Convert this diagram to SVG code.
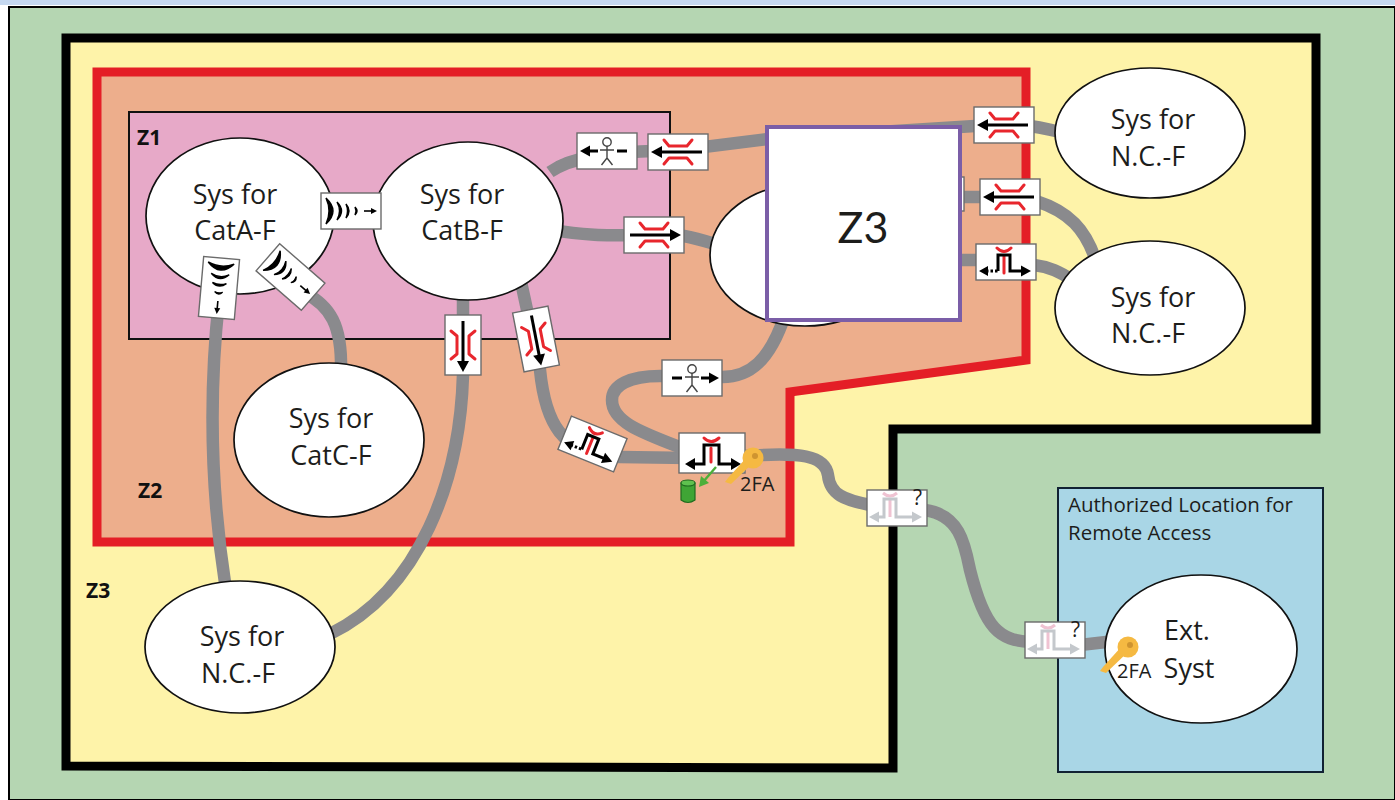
<svg xmlns="http://www.w3.org/2000/svg" width="1395" height="800" viewBox="0 0 1395 800">
<style>
text{font-family:"Open Sans","Noto Sans","Liberation Sans",sans-serif;fill:#1d1d1b}
.lab{font-size:27px;text-anchor:middle}
.zn{font-size:21px;font-weight:700;fill:#111}
.el{fill:#fff;stroke:#111;stroke-width:1.7}
.cn{fill:none;stroke:#8a8a8d;stroke-width:12.5}
.box{fill:#fff;stroke:#6b6b6b;stroke-width:1.4}
.red{fill:none;stroke:#e8262d;stroke-width:3;stroke-linejoin:round;stroke-linecap:round}
.blk{fill:none;stroke:#000;stroke-width:3}
.gr{fill:none;stroke:#c4c8cc;stroke-width:3}
.pk{fill:none;stroke:#efc3d2;stroke-width:3}
</style>
<defs>
<g id="fw"><rect class="box" x="-30" y="-18" width="60" height="36"/>
<path class="red" d="M-14,-12 L-9,-6 H9 L14,-12 M-14,12 L-9,6 H9 L14,12"/>
<path class="blk" d="M-24,0 H20"/><path d="M27,0 L16,-6 V6Z"/></g>
<g id="pulse"><rect class="box" x="-30" y="-18" width="60" height="36"/>
<path d="M-25,-13 Q-11,0 -25,13 Q-19,0 -25,-13Z M-14,-9 Q-5,0 -14,9 Q-9,0 -14,-9Z M-5,-7 Q1,0 -5,7 Q-2,0 -5,-7Z M4,-4 Q8,0 4,4 Q6,0 4,-4Z" stroke="#000" stroke-width="1.4"/>
<path d="M13,0 H21" stroke="#000" stroke-width="1.6"/><path d="M26,0 L20,-3 V3Z"/></g>
<g id="person"><rect class="box" x="-30" y="-18" width="60" height="36"/>
<path d="M-27,0 L-17,-5.5 V5.5Z"/><path d="M-18,0 H-9 M10,0 H20" stroke="#000" stroke-width="3"/>
<circle cx="0" cy="-9" r="4.2" fill="#fff" stroke="#444" stroke-width="1.4"/>
<path d="M0,-5 V7 M-7,-1 H7 M0,7 L-5.5,14 M0,7 L5.5,14" fill="none" stroke="#444" stroke-width="1.4"/></g>
<g id="tunD"><rect class="box" x="-30" y="-18" width="60" height="36"/>
<path class="red" d="M-9,-14 Q-2,-7 5,-14 M-2,-6 V11"/>
<path class="blk" d="M-8,9 V-7 H4 V9 H18"/><path class="blk" stroke-dasharray="2.5 2" d="M-20,9 H-8"/>
<path d="M25,9 L15,3.5 V14.5Z M-27,9 L-18,4 V14Z"/></g>
<g id="tunS"><rect class="box" x="-33" y="-20" width="66" height="40"/>
<path class="red" d="M-8,-15 Q-1,-8 7,-15 M-1,-5 V9"/>
<path class="blk" d="M-20,11 H-8 V-8 H7 V11 H22"/>
<path d="M29,11 L19,5 V17Z M-27,11 L-17,5 V17Z"/></g>
<g id="tunG"><rect class="box" x="-30" y="-18" width="60" height="36"/>
<path class="pk" d="M-14,-15 Q-7,-9 0,-15 M-7,-8 V9"/>
<path class="gr" d="M-20,9 H-13 V-9 H-1 V9 H16"/>
<path d="M25,9 L15,3.5 V14.5Z M-28,9 L-18,3.5 V14.5Z" fill="#c4c8cc"/>
<text x="16" y="-3" font-size="21">?</text></g>
<g id="key"><path d="M-3,-5 L-22,16 L-25,20 L-19,22 L3,1" fill="#f5b942"/>
<circle cx="3" cy="-4" r="10.5" fill="#f5b942"/><circle cx="5" cy="-6" r="3" fill="#cf9430"/></g>
</defs>

<rect width="1395" height="800" fill="#fff"/>
<rect width="1395" height="5" fill="#c5d8f0"/>
<rect x="9" y="7" width="1386" height="793" fill="#b5d6b2" stroke="#000" stroke-width="2"/>

<g id="zone-z3"><path d="M66,38 H1316 V429 H893 V768 L66,766Z" fill="#fef3a9" stroke="#000" stroke-width="9"/>
<text class="zn" x="86" y="598">Z3</text></g>
<g id="zone-z2"><path d="M97,72 H1026 V360 L790,392 V542 H97Z" fill="#edae8c" stroke="#e41e26" stroke-width="9"/>
<text class="zn" x="138" y="498">Z2</text></g>
<g id="zone-z1"><rect x="129" y="112" width="541" height="227" fill="#e7a9c8" stroke="#111" stroke-width="2"/>
<text class="zn" x="137" y="145">Z1</text></g>
<g id="zone-remote"><rect x="1058" y="488" width="265" height="284" fill="#a9d6e6" stroke="#123" stroke-width="2"/>
<text x="1068" y="512" font-size="20.5">Authorized Location for</text>
<text x="1068" y="540" font-size="20.5">Remote Access</text></g>

<g id="connectors">
<path class="cn" d="M219,300 C208,400 212,500 226,590"/>
<path class="cn" d="M305,293 C330,306 342,325 341,370"/>
<path class="cn" d="M550,172 C570,158 600,152 680,150 L768,139 L975,126"/>
<path class="cn" d="M555,230 C590,238 640,234 684,236 C695,238 705,241 715,244"/>
<path class="cn" d="M463,275 V375 C460,480 420,590 330,634"/>
<path class="cn" d="M518,268 L540,370 C545,420 560,456 620,457 L690,458"/>
<path class="cn" d="M785,315 C770,360 750,378 720,377 L660,376 C630,376 612,385 612,400 C612,425 650,435 700,455"/>
<path class="cn" d="M745,456 C800,452 825,455 828,475 C830,495 845,500 870,505 L925,510 C960,515 965,545 970,570 C985,630 1000,640 1030,642"/>
<path class="cn" d="M1080,645 L1115,641"/>
<path class="cn" d="M1030,126 C1045,128 1050,130 1062,132"/>
<path class="cn" d="M960,197 H985 M1036,201 C1070,212 1085,230 1095,258"/>
<path class="cn" d="M958,260 H980 M1034,265 C1050,267 1060,272 1072,280"/>
</g>

<g id="sys-cata"><ellipse class="el" cx="240" cy="216" rx="94" ry="78"/><text class="lab" x="235" y="204">Sys for</text><text class="lab" x="235" y="240">CatA-F</text></g>
<g id="sys-catb"><ellipse class="el" cx="468" cy="221" rx="95" ry="79"/><text class="lab" x="462" y="204">Sys for</text><text class="lab" x="462" y="240">CatB-F</text></g>
<g id="sys-catc"><ellipse class="el" cx="329" cy="440" rx="95" ry="77"/><text class="lab" x="331" y="428">Sys for</text><text class="lab" x="331" y="465">CatC-F</text></g>
<g id="sys-nc-bottom"><ellipse class="el" cx="240" cy="647" rx="95" ry="66"/><text class="lab" x="242" y="646">Sys for</text><text class="lab" x="238" y="683">N.C.-F</text></g>
<g id="sys-nc-top"><ellipse class="el" cx="1150" cy="133" rx="95" ry="65"/><text class="lab" x="1153" y="129">Sys for</text><text class="lab" x="1148" y="166">N.C.-F</text></g>
<g id="sys-nc-mid"><ellipse class="el" cx="1150" cy="308" rx="95" ry="67"/><text class="lab" x="1153" y="307">Sys for</text><text class="lab" x="1148" y="343">N.C.-F</text></g>
<g id="sys-ext"><ellipse class="el" cx="1201" cy="649" rx="96" ry="74"/><text class="lab" x="1187" y="640">Ext.</text><text class="lab" x="1189" y="678">Syst</text></g>
<g id="sys-hidden"><ellipse class="el" cx="805" cy="255" rx="95" ry="71"/></g>

<g id="ctl-pulse-h"><use href="#pulse" transform="translate(351,211)"/></g>
<g id="ctl-pulse-d"><use href="#pulse" transform="translate(219,288) rotate(95)"/></g>
<g id="ctl-pulse-diag"><use href="#pulse" transform="translate(290.5,277) rotate(41)"/></g>
<g id="ctl-person-l"><use href="#person" transform="translate(607,151)"/></g>
<g id="ctl-fw-l1"><use href="#fw" transform="translate(678,152) scale(-1,1)"/></g>
<g id="ctl-fw-r"><use href="#fw" transform="translate(654,235)"/></g>
<g id="ctl-fw-l2"><use href="#fw" transform="translate(1004,125) scale(-1,1)"/></g>
<g id="ctl-hidden-edge"><rect class="box" x="950" y="177" width="14" height="34"/></g>
<g id="ctl-fw-l3"><use href="#fw" transform="translate(1010,197) scale(-1,1)"/></g>
<g id="ctl-tun-r"><use href="#tunD" transform="translate(1006,262)"/></g>
<g id="ctl-fw-d1"><use href="#fw" transform="translate(463,345) rotate(90)"/></g>
<g id="ctl-fw-d2"><use href="#fw" transform="translate(536,339) rotate(79)"/></g>
<g id="ctl-tun-diag"><use href="#tunD" transform="translate(592.5,444) rotate(22)"/></g>
<g id="ctl-person-r"><use href="#person" transform="translate(692,378) scale(-1,1)"/></g>
<g id="ctl-tun-main"><use href="#tunS" transform="translate(712,453)"/>
<path d="M716,467 L703,482" stroke="#4caf3a" stroke-width="2.4"/><path d="M699,487 L701,476 L709,483Z" fill="#4caf3a"/>
<path d="M681,483 V500 Q688,505 695,500 V483Z" fill="#3fa535" stroke="#1f6b1f" stroke-width="1.2"/><ellipse cx="688" cy="483" rx="7" ry="3" fill="#5fc14f" stroke="#1f6b1f" stroke-width="1.2"/></g>
<g id="key-2fa-left"><use href="#key" transform="translate(750,462)"/><text x="740" y="491" font-size="20">2FA</text></g>
<g id="ctl-ghost-1"><use href="#tunG" transform="translate(897,508)"/></g>
<g id="ctl-ghost-2"><use href="#tunG" transform="translate(1055,640)"/></g>
<g id="key-2fa-right"><use href="#key" transform="translate(1125,651)"/><text x="1117" y="678" font-size="20">2FA</text></g>

<g id="z3-cover"><rect x="767" y="127" width="193" height="193" fill="#fff" stroke="#7b5ea7" stroke-width="4"/>
<text x="863" y="243" font-size="43" text-anchor="middle" style="font-family:Lato,'Open Sans',sans-serif">Z3</text></g>
</svg>
